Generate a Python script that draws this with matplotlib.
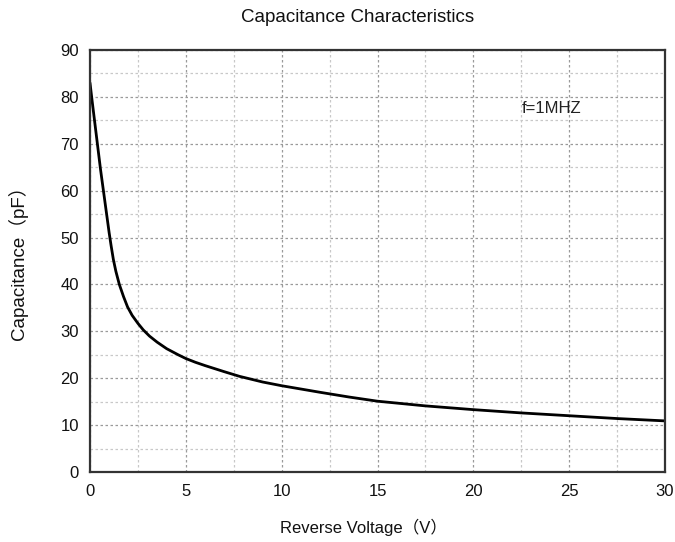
import matplotlib
matplotlib.use('Agg')
import matplotlib.pyplot as plt
from matplotlib.ticker import MultipleLocator

# Datos (tension inversa V, capacidad pF)
voltaje = [0, 0.1, 0.25, 0.4, 0.55, 0.7, 0.85, 1.0, 1.1, 1.22, 1.35, 1.53, 1.75,
           1.96, 2.2, 2.5, 2.78, 3.1, 3.5, 4.0, 4.6, 5.0, 5.5, 6.0, 7.0, 7.8, 9.0,
           10.0, 11.0, 12.0, 13.5, 15.0, 17.5, 20.0, 22.5, 25.0, 27.5, 30.0]
capacidad = [83.0, 79.5, 74.5, 69.5, 64.5, 60.0, 55.5, 51.0, 48.3, 45.3, 42.8, 40.0,
             37.4, 35.2, 33.4, 31.7, 30.3, 29.0, 27.7, 26.3, 25.0, 24.2, 23.4, 22.7,
             21.4, 20.4, 19.2, 18.4, 17.7, 17.0, 16.0, 15.1, 14.1, 13.3, 12.6, 12.0,
             11.4, 10.9]

titulo = 'Capacitance Characteristics'
etiqueta_x = 'Reverse Voltage（V）'
etiqueta_y = 'Capacitance（pF）'
nota = 'f=1MHZ'

fuente = ['Liberation Sans', 'Noto Sans CJK SC', 'DejaVu Sans']
plt.rcParams['font.family'] = fuente

fig = plt.figure(figsize=(6.75, 5.42), dpi=100)
ax = fig.add_axes([90 / 675, 1 - 472 / 542, 575 / 675, 422 / 542])

ax.plot(voltaje, capacidad, color='black', linewidth=2.0,
        solid_capstyle='round', solid_joinstyle='round')

ax.set_xlim(0, 30)
ax.set_ylim(0, 90)
ax.xaxis.set_major_locator(MultipleLocator(5))
ax.xaxis.set_minor_locator(MultipleLocator(2.5))
ax.yaxis.set_major_locator(MultipleLocator(10))
ax.yaxis.set_minor_locator(MultipleLocator(5))

ax.grid(which='major', linestyle=(0, (2, 2)), color='#9a9a9a', linewidth=0.9)
ax.grid(which='minor', linestyle=(0, (2, 2)), color='#c8c8c8', linewidth=0.9)
ax.tick_params(which='both', length=0, labelsize=12, colors='#111111')
ax.tick_params(axis='x', pad=9)
ax.tick_params(axis='y', pad=8)

for lado in ['left', 'bottom', 'top', 'right']:
    ax.spines[lado].set_color('#333333')
    ax.spines[lado].set_linewidth(1.6)

ax.text(22.5, 77.5, nota, fontsize=12, va='center', ha='left', color='#222222')

fig.text(358 / 675, 1 - 18 / 542, titulo, ha='center', va='center', fontsize=13.5,
         color='#111111')
fig.text(363 / 675, 1 - 527 / 542, etiqueta_x, ha='center', va='center', fontsize=12,
         color='#111111')
fig.text(18 / 675, 1 - 258 / 542, etiqueta_y, ha='center', va='center', fontsize=13.5,
         rotation=90, color='#111111')

fig.savefig('out.png', dpi=100)
